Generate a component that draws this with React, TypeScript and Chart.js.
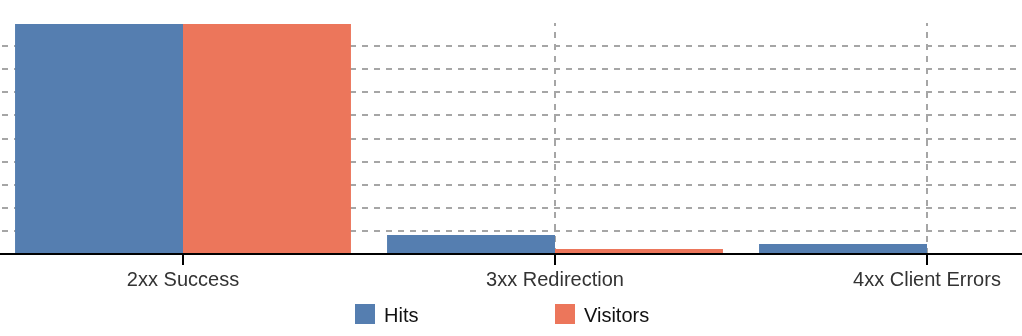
import React, { useEffect, useRef } from "react";
import { Chart, registerables } from "chart.js";

Chart.register(...registerables);

// ---- data ----
const categories = ["2xx Success", "3xx Redirection", "4xx Client Errors"];
const seriesLabels = ["Hits", "Visitors"];
const hitsValues = [99.6, 8.2, 4.3];
const visitorsValues = [99.6, 2.2, 0];
const yMin = 0;
const yMax = 100;
const yStep = 10;

// ---- styles / layout ----
const FONT = '"Liberation Sans", Arial, Helvetica, sans-serif';
const BLUE = "#557EB0";
const ORANGE = "#EC765B";
const GRID = "#a6a6a6";
const CANVAS_LEFT = -3;
const CANVAS_WIDTH = 1116;
const CANVAS_HEIGHT = 336;
const LEGEND_BOX_X = [355, 555];
const LEGEND_BOX_Y = 304;
const LEGEND_BOX = 20;

const legendPlugin = {
  id: "customLegend",
  afterDraw(chart: any) {
    const ctx = chart.ctx;
    ctx.save();
    ctx.font = `20px ${FONT}`;
    ctx.textBaseline = "alphabetic";
    ctx.textAlign = "left";
    chart.data.datasets.forEach((ds: any, i: number) => {
      const x = LEGEND_BOX_X[i] - CANVAS_LEFT;
      ctx.fillStyle = ds.backgroundColor;
      ctx.fillRect(x, LEGEND_BOX_Y, LEGEND_BOX, LEGEND_BOX);
      ctx.fillStyle = "#111";
      ctx.fillText(ds.label, x + 29, LEGEND_BOX_Y + 18);
    });
    ctx.restore();
  },
};

export default function App() {
  const ref = useRef<HTMLCanvasElement | null>(null);

  useEffect(() => {
    if (!ref.current) return;
    const chart = new Chart(ref.current, {
      type: "bar",
      data: {
        labels: categories,
        datasets: [
          {
            label: seriesLabels[0],
            data: hitsValues,
            backgroundColor: BLUE,
            borderWidth: 0,
            barPercentage: 1,
            categoryPercentage: 0.903,
          },
          {
            label: seriesLabels[1],
            data: visitorsValues,
            backgroundColor: ORANGE,
            borderWidth: 0,
            barPercentage: 1,
            categoryPercentage: 0.903,
          },
        ],
      },
      options: {
        responsive: false,
        animation: false,
        devicePixelRatio: 1,
        layout: { padding: { top: 23, bottom: 41, left: 0, right: 0 } },
        plugins: {
          legend: { display: false },
          tooltip: { enabled: false },
        },
        scales: {
          x: {
            offset: true,
            grid: {
              offset: false,
              color: (c: any) => (c.index === 0 ? "rgba(0,0,0,0)" : GRID),
              lineWidth: 2,
              drawTicks: true,
              tickLength: 11,
              tickColor: "#000",
              tickWidth: 2,
              z: -1,
            },
            border: {
              display: true,
              color: "#000",
              width: 2,
              dash: [6, 6],
              dashOffset: 3,
              z: 1,
            },
            ticks: {
              color: "#333",
              padding: 3,
              font: { family: FONT, size: 20 },
              maxRotation: 0,
              autoSkip: false,
            },
          },
          y: {
            min: yMin,
            max: yMax,
            grid: {
              color: (c: any) =>
                c.tick && (c.tick.value === yMax || c.tick.value === yMin)
                  ? "rgba(0,0,0,0)"
                  : GRID,
              lineWidth: 2,
              drawTicks: false,
            },
            border: { display: false, dash: [6, 6], dashOffset: 7 },
            ticks: { display: false, stepSize: yStep },
          },
        },
      },
      plugins: [legendPlugin],
    });
    return () => chart.destroy();
  }, []);

  return (
    <div
      style={{
        position: "fixed",
        left: 0,
        top: 0,
        width: 1022,
        height: 336,
        overflow: "hidden",
        background: "#fff",
      }}
    >
      <div
        style={{
          position: "absolute",
          left: CANVAS_LEFT,
          top: 0,
          width: CANVAS_WIDTH,
          height: CANVAS_HEIGHT,
        }}
      >
        <canvas
          ref={ref}
          width={CANVAS_WIDTH}
          height={CANVAS_HEIGHT}
          style={{ display: "block", width: CANVAS_WIDTH, height: CANVAS_HEIGHT }}
        />
      </div>
    </div>
  );
}
